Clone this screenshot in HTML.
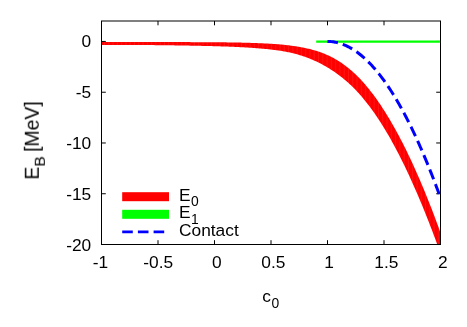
<!DOCTYPE html>
<html><head><meta charset="utf-8"><title>plot</title>
<style>html,body{margin:0;padding:0;background:#fff;}body{width:467px;height:327px;overflow:hidden;font-family:"Liberation Sans",sans-serif;}</style></head>
<body>
<svg width="467" height="327" viewBox="0 0 467 327" style="display:block">
<rect width="467" height="327" fill="#fff"/>
<defs><clipPath id="cp"><rect x="101.5" y="21.15" width="339.0" height="223.35"/></clipPath></defs>
<path d="M101.50,244.5v-4.3M101.50,21.0v4.3M158.00,244.5v-4.3M158.00,21.0v4.3M214.50,244.5v-4.3M214.50,21.0v4.3M271.00,244.5v-4.3M271.00,21.0v4.3M327.50,244.5v-4.3M327.50,21.0v4.3M384.00,244.5v-4.3M384.00,21.0v4.3M440.50,244.5v-4.3M440.50,21.0v4.3M101.5,41.45h4.3M440.5,41.45h-4.3M101.5,92.22h4.3M440.5,92.22h-4.3M101.5,142.98h4.3M440.5,142.98h-4.3M101.5,193.74h4.3M440.5,193.74h-4.3M101.5,244.50h4.3M440.5,244.50h-4.3" stroke="#000" stroke-width="1" fill="none"/>
<g clip-path="url(#cp)"><polygon points="100.0,42.02 101.0,42.02 102.0,42.01 103.0,42.01 104.0,42.01 105.0,42.00 106.0,42.00 107.0,41.99 108.0,41.99 109.0,41.99 110.0,41.98 111.0,41.98 112.0,41.98 113.0,41.97 114.0,41.97 115.0,41.97 116.0,41.97 117.0,41.97 118.0,41.96 119.0,41.96 120.0,41.96 121.0,41.96 122.0,41.96 123.0,41.96 124.0,41.95 125.0,41.95 126.0,41.95 127.0,41.95 128.0,41.95 129.0,41.95 130.0,41.95 131.0,41.95 132.0,41.95 133.0,41.95 134.0,41.95 135.0,41.95 136.0,41.95 137.0,41.95 138.0,41.95 139.0,41.96 140.0,41.96 141.0,41.96 142.0,41.96 143.0,41.96 144.0,41.96 145.0,41.96 146.0,41.97 147.0,41.97 148.0,41.97 149.0,41.97 150.0,41.97 151.0,41.98 152.0,41.98 153.0,41.98 154.0,41.98 155.0,41.99 156.0,41.99 157.0,41.99 158.0,41.99 159.0,42.00 160.0,42.00 161.0,42.00 162.0,42.01 163.0,42.01 164.0,42.01 165.0,42.02 166.0,42.02 167.0,42.02 168.0,42.03 169.0,42.03 170.0,42.04 171.0,42.04 172.0,42.04 173.0,42.05 174.0,42.05 175.0,42.06 176.0,42.06 177.0,42.06 178.0,42.07 179.0,42.07 180.0,42.08 181.0,42.08 182.0,42.09 183.0,42.09 184.0,42.10 185.0,42.10 186.0,42.11 187.0,42.11 188.0,42.12 189.0,42.12 190.0,42.12 191.0,42.13 192.0,42.13 193.0,42.14 194.0,42.14 195.0,42.15 196.0,42.15 197.0,42.16 198.0,42.16 199.0,42.17 200.0,42.17 201.0,42.18 202.0,42.18 203.0,42.19 204.0,42.20 205.0,42.20 206.0,42.21 207.0,42.21 208.0,42.22 209.0,42.22 210.0,42.23 211.0,42.24 212.0,42.24 213.0,42.25 214.0,42.26 215.0,42.26 216.0,42.27 217.0,42.28 218.0,42.29 219.0,42.30 220.0,42.31 221.0,42.32 222.0,42.33 223.0,42.34 224.0,42.35 225.0,42.36 226.0,42.37 227.0,42.38 228.0,42.40 229.0,42.41 230.0,42.42 231.0,42.44 232.0,42.45 233.0,42.47 234.0,42.49 235.0,42.50 236.0,42.52 237.0,42.54 238.0,42.56 239.0,42.58 240.0,42.60 241.0,42.62 242.0,42.65 243.0,42.67 244.0,42.69 245.0,42.72 246.0,42.75 247.0,42.77 248.0,42.80 249.0,42.83 250.0,42.86 251.0,42.89 252.0,42.92 253.0,42.96 254.0,42.99 255.0,43.03 256.0,43.06 257.0,43.10 258.0,43.14 259.0,43.18 260.0,43.22 261.0,43.26 262.0,43.30 263.0,43.35 264.0,43.40 265.0,43.44 266.0,43.49 267.0,43.55 268.0,43.60 269.0,43.66 270.0,43.71 271.0,43.77 272.0,43.84 273.0,43.90 274.0,43.97 275.0,44.04 276.0,44.11 277.0,44.19 278.0,44.27 279.0,44.35 280.0,44.44 281.0,44.53 282.0,44.62 283.0,44.72 284.0,44.82 285.0,44.92 286.0,45.03 287.0,45.14 288.0,45.25 289.0,45.37 290.0,45.50 291.0,45.63 292.0,45.76 293.0,45.90 294.0,46.04 295.0,46.19 296.0,46.34 297.0,46.50 298.0,46.67 299.0,46.84 300.0,47.01 301.0,47.19 302.0,47.38 303.0,47.57 304.0,47.77 305.0,47.97 306.0,48.18 307.0,48.40 308.0,48.63 309.0,48.87 310.0,49.11 311.0,49.37 312.0,49.63 313.0,49.90 314.0,50.18 315.0,50.47 316.0,50.78 317.0,51.09 318.0,51.41 319.0,51.75 320.0,52.09 321.0,52.45 322.0,52.82 323.0,53.21 324.0,53.60 325.0,54.01 326.0,54.44 327.0,54.88 328.0,55.33 329.0,55.79 330.0,56.27 331.0,56.77 332.0,57.28 333.0,57.81 334.0,58.35 335.0,58.91 336.0,59.49 337.0,60.08 338.0,60.69 339.0,61.32 340.0,61.96 341.0,62.62 342.0,63.30 343.0,64.00 344.0,64.71 345.0,65.44 346.0,66.19 347.0,66.97 348.0,67.76 349.0,68.56 350.0,69.39 351.0,70.24 352.0,71.11 353.0,72.00 354.0,72.91 355.0,73.84 356.0,74.79 357.0,75.76 358.0,76.75 359.0,77.77 360.0,78.80 361.0,79.86 362.0,80.94 363.0,82.05 364.0,83.17 365.0,84.32 366.0,85.49 367.0,86.68 368.0,87.89 369.0,89.12 370.0,90.38 371.0,91.65 372.0,92.95 373.0,94.27 374.0,95.62 375.0,96.98 376.0,98.37 377.0,99.77 378.0,101.20 379.0,102.65 380.0,104.12 381.0,105.62 382.0,107.13 383.0,108.67 384.0,110.22 385.0,111.80 386.0,113.40 387.0,115.02 388.0,116.66 389.0,118.32 390.0,120.01 391.0,121.71 392.0,123.44 393.0,125.19 394.0,126.95 395.0,128.74 396.0,130.55 397.0,132.38 398.0,134.23 399.0,136.10 400.0,138.00 401.0,139.91 402.0,141.85 403.0,143.80 404.0,145.78 405.0,147.77 406.0,149.79 407.0,151.83 408.0,153.89 409.0,155.97 410.0,158.08 411.0,160.20 412.0,162.35 413.0,164.51 414.0,166.70 415.0,168.91 416.0,171.14 417.0,173.40 418.0,175.67 419.0,177.97 420.0,180.29 421.0,182.63 422.0,185.00 423.0,187.38 424.0,189.79 425.0,192.22 426.0,194.67 427.0,197.15 428.0,199.64 429.0,202.16 430.0,204.71 431.0,207.27 432.0,209.86 433.0,212.47 434.0,215.11 435.0,217.76 436.0,220.44 437.0,223.14 438.0,225.87 439.0,228.62 440.0,231.39 441.0,234.19 442.0,237.01 443.0,239.85 444.0,242.72 445.0,245.61 446.0,248.52 447.0,251.46 447.0,271.90 446.0,268.99 445.0,266.11 444.0,263.24 443.0,260.39 442.0,257.56 441.0,254.75 440.0,251.96 439.0,249.19 438.0,246.44 437.0,243.71 436.0,241.00 435.0,238.31 434.0,235.64 433.0,232.98 432.0,230.35 431.0,227.74 430.0,225.14 429.0,222.57 428.0,220.02 427.0,217.48 426.0,214.97 425.0,212.48 424.0,210.00 423.0,207.55 422.0,205.12 421.0,202.70 420.0,200.31 419.0,197.94 418.0,195.59 417.0,193.25 416.0,190.94 415.0,188.65 414.0,186.38 413.0,184.13 412.0,181.90 411.0,179.69 410.0,177.50 409.0,175.33 408.0,173.19 407.0,171.06 406.0,168.95 405.0,166.87 404.0,164.80 403.0,162.76 402.0,160.73 401.0,158.73 400.0,156.75 399.0,154.79 398.0,152.85 397.0,150.93 396.0,149.04 395.0,147.16 394.0,145.30 393.0,143.47 392.0,141.66 391.0,139.86 390.0,138.09 389.0,136.34 388.0,134.61 387.0,132.90 386.0,131.22 385.0,129.55 384.0,127.90 383.0,126.28 382.0,124.68 381.0,123.09 380.0,121.53 379.0,119.99 378.0,118.47 377.0,116.97 376.0,115.50 375.0,114.04 374.0,112.61 373.0,111.19 372.0,109.80 371.0,108.43 370.0,107.07 369.0,105.74 368.0,104.44 367.0,103.15 366.0,101.88 365.0,100.64 364.0,99.41 363.0,98.21 362.0,97.02 361.0,95.86 360.0,94.72 359.0,93.60 358.0,92.51 357.0,91.43 356.0,90.37 355.0,89.33 354.0,88.31 353.0,87.31 352.0,86.33 351.0,85.37 350.0,84.43 349.0,83.51 348.0,82.60 347.0,81.71 346.0,80.84 345.0,79.98 344.0,79.15 343.0,78.32 342.0,77.52 341.0,76.73 340.0,75.95 339.0,75.19 338.0,74.45 337.0,73.72 336.0,73.00 335.0,72.30 334.0,71.62 333.0,70.94 332.0,70.28 331.0,69.63 330.0,69.00 329.0,68.37 328.0,67.76 327.0,67.16 326.0,66.58 325.0,66.00 324.0,65.44 323.0,64.88 322.0,64.34 321.0,63.82 320.0,63.30 319.0,62.79 318.0,62.30 317.0,61.81 316.0,61.34 315.0,60.88 314.0,60.43 313.0,59.99 312.0,59.56 311.0,59.14 310.0,58.73 309.0,58.33 308.0,57.94 307.0,57.57 306.0,57.20 305.0,56.84 304.0,56.49 303.0,56.15 302.0,55.82 301.0,55.50 300.0,55.20 299.0,54.89 298.0,54.60 297.0,54.32 296.0,54.05 295.0,53.78 294.0,53.53 293.0,53.28 292.0,53.04 291.0,52.81 290.0,52.58 289.0,52.36 288.0,52.15 287.0,51.95 286.0,51.76 285.0,51.57 284.0,51.38 283.0,51.21 282.0,51.04 281.0,50.87 280.0,50.72 279.0,50.56 278.0,50.42 277.0,50.27 276.0,50.14 275.0,50.00 274.0,49.88 273.0,49.75 272.0,49.63 271.0,49.52 270.0,49.41 269.0,49.30 268.0,49.20 267.0,49.10 266.0,49.00 265.0,48.90 264.0,48.81 263.0,48.72 262.0,48.63 261.0,48.55 260.0,48.47 259.0,48.39 258.0,48.31 257.0,48.23 256.0,48.15 255.0,48.08 254.0,48.01 253.0,47.94 252.0,47.87 251.0,47.80 250.0,47.73 249.0,47.67 248.0,47.61 247.0,47.54 246.0,47.48 245.0,47.43 244.0,47.37 243.0,47.31 242.0,47.26 241.0,47.20 240.0,47.15 239.0,47.10 238.0,47.05 237.0,47.00 236.0,46.96 235.0,46.91 234.0,46.87 233.0,46.82 232.0,46.78 231.0,46.74 230.0,46.70 229.0,46.66 228.0,46.62 227.0,46.58 226.0,46.55 225.0,46.51 224.0,46.48 223.0,46.44 222.0,46.41 221.0,46.38 220.0,46.34 219.0,46.31 218.0,46.28 217.0,46.25 216.0,46.23 215.0,46.20 214.0,46.17 213.0,46.14 212.0,46.12 211.0,46.09 210.0,46.07 209.0,46.04 208.0,46.02 207.0,45.99 206.0,45.97 205.0,45.95 204.0,45.92 203.0,45.90 202.0,45.88 201.0,45.86 200.0,45.84 199.0,45.82 198.0,45.79 197.0,45.77 196.0,45.75 195.0,45.73 194.0,45.71 193.0,45.69 192.0,45.67 191.0,45.65 190.0,45.64 189.0,45.62 188.0,45.60 187.0,45.58 186.0,45.56 185.0,45.54 184.0,45.53 183.0,45.51 182.0,45.49 181.0,45.48 180.0,45.46 179.0,45.44 178.0,45.43 177.0,45.41 176.0,45.39 175.0,45.38 174.0,45.36 173.0,45.35 172.0,45.33 171.0,45.32 170.0,45.31 169.0,45.29 168.0,45.28 167.0,45.27 166.0,45.25 165.0,45.24 164.0,45.23 163.0,45.22 162.0,45.20 161.0,45.19 160.0,45.18 159.0,45.17 158.0,45.16 157.0,45.15 156.0,45.14 155.0,45.13 154.0,45.12 153.0,45.11 152.0,45.10 151.0,45.09 150.0,45.08 149.0,45.07 148.0,45.06 147.0,45.06 146.0,45.05 145.0,45.04 144.0,45.03 143.0,45.03 142.0,45.02 141.0,45.01 140.0,45.01 139.0,45.00 138.0,45.00 137.0,44.99 136.0,44.99 135.0,44.98 134.0,44.98 133.0,44.98 132.0,44.97 131.0,44.97 130.0,44.97 129.0,44.96 128.0,44.96 127.0,44.96 126.0,44.96 125.0,44.96 124.0,44.95 123.0,44.95 122.0,44.95 121.0,44.95 120.0,44.95 119.0,44.95 118.0,44.95 117.0,44.95 116.0,44.96 115.0,44.96 114.0,44.96 113.0,44.96 112.0,44.96 111.0,44.97 110.0,44.97 109.0,44.97 108.0,44.98 107.0,44.98 106.0,44.98 105.0,44.99 104.0,44.99 103.0,45.00 102.0,45.00 101.0,45.01 100.0,45.02" fill="#ff0000"/><clipPath id="bp"><polygon points="100.0,42.02 101.0,42.02 102.0,42.01 103.0,42.01 104.0,42.01 105.0,42.00 106.0,42.00 107.0,41.99 108.0,41.99 109.0,41.99 110.0,41.98 111.0,41.98 112.0,41.98 113.0,41.97 114.0,41.97 115.0,41.97 116.0,41.97 117.0,41.97 118.0,41.96 119.0,41.96 120.0,41.96 121.0,41.96 122.0,41.96 123.0,41.96 124.0,41.95 125.0,41.95 126.0,41.95 127.0,41.95 128.0,41.95 129.0,41.95 130.0,41.95 131.0,41.95 132.0,41.95 133.0,41.95 134.0,41.95 135.0,41.95 136.0,41.95 137.0,41.95 138.0,41.95 139.0,41.96 140.0,41.96 141.0,41.96 142.0,41.96 143.0,41.96 144.0,41.96 145.0,41.96 146.0,41.97 147.0,41.97 148.0,41.97 149.0,41.97 150.0,41.97 151.0,41.98 152.0,41.98 153.0,41.98 154.0,41.98 155.0,41.99 156.0,41.99 157.0,41.99 158.0,41.99 159.0,42.00 160.0,42.00 161.0,42.00 162.0,42.01 163.0,42.01 164.0,42.01 165.0,42.02 166.0,42.02 167.0,42.02 168.0,42.03 169.0,42.03 170.0,42.04 171.0,42.04 172.0,42.04 173.0,42.05 174.0,42.05 175.0,42.06 176.0,42.06 177.0,42.06 178.0,42.07 179.0,42.07 180.0,42.08 181.0,42.08 182.0,42.09 183.0,42.09 184.0,42.10 185.0,42.10 186.0,42.11 187.0,42.11 188.0,42.12 189.0,42.12 190.0,42.12 191.0,42.13 192.0,42.13 193.0,42.14 194.0,42.14 195.0,42.15 196.0,42.15 197.0,42.16 198.0,42.16 199.0,42.17 200.0,42.17 201.0,42.18 202.0,42.18 203.0,42.19 204.0,42.20 205.0,42.20 206.0,42.21 207.0,42.21 208.0,42.22 209.0,42.22 210.0,42.23 211.0,42.24 212.0,42.24 213.0,42.25 214.0,42.26 215.0,42.26 216.0,42.27 217.0,42.28 218.0,42.29 219.0,42.30 220.0,42.31 221.0,42.32 222.0,42.33 223.0,42.34 224.0,42.35 225.0,42.36 226.0,42.37 227.0,42.38 228.0,42.40 229.0,42.41 230.0,42.42 231.0,42.44 232.0,42.45 233.0,42.47 234.0,42.49 235.0,42.50 236.0,42.52 237.0,42.54 238.0,42.56 239.0,42.58 240.0,42.60 241.0,42.62 242.0,42.65 243.0,42.67 244.0,42.69 245.0,42.72 246.0,42.75 247.0,42.77 248.0,42.80 249.0,42.83 250.0,42.86 251.0,42.89 252.0,42.92 253.0,42.96 254.0,42.99 255.0,43.03 256.0,43.06 257.0,43.10 258.0,43.14 259.0,43.18 260.0,43.22 261.0,43.26 262.0,43.30 263.0,43.35 264.0,43.40 265.0,43.44 266.0,43.49 267.0,43.55 268.0,43.60 269.0,43.66 270.0,43.71 271.0,43.77 272.0,43.84 273.0,43.90 274.0,43.97 275.0,44.04 276.0,44.11 277.0,44.19 278.0,44.27 279.0,44.35 280.0,44.44 281.0,44.53 282.0,44.62 283.0,44.72 284.0,44.82 285.0,44.92 286.0,45.03 287.0,45.14 288.0,45.25 289.0,45.37 290.0,45.50 291.0,45.63 292.0,45.76 293.0,45.90 294.0,46.04 295.0,46.19 296.0,46.34 297.0,46.50 298.0,46.67 299.0,46.84 300.0,47.01 301.0,47.19 302.0,47.38 303.0,47.57 304.0,47.77 305.0,47.97 306.0,48.18 307.0,48.40 308.0,48.63 309.0,48.87 310.0,49.11 311.0,49.37 312.0,49.63 313.0,49.90 314.0,50.18 315.0,50.47 316.0,50.78 317.0,51.09 318.0,51.41 319.0,51.75 320.0,52.09 321.0,52.45 322.0,52.82 323.0,53.21 324.0,53.60 325.0,54.01 326.0,54.44 327.0,54.88 328.0,55.33 329.0,55.79 330.0,56.27 331.0,56.77 332.0,57.28 333.0,57.81 334.0,58.35 335.0,58.91 336.0,59.49 337.0,60.08 338.0,60.69 339.0,61.32 340.0,61.96 341.0,62.62 342.0,63.30 343.0,64.00 344.0,64.71 345.0,65.44 346.0,66.19 347.0,66.97 348.0,67.76 349.0,68.56 350.0,69.39 351.0,70.24 352.0,71.11 353.0,72.00 354.0,72.91 355.0,73.84 356.0,74.79 357.0,75.76 358.0,76.75 359.0,77.77 360.0,78.80 361.0,79.86 362.0,80.94 363.0,82.05 364.0,83.17 365.0,84.32 366.0,85.49 367.0,86.68 368.0,87.89 369.0,89.12 370.0,90.38 371.0,91.65 372.0,92.95 373.0,94.27 374.0,95.62 375.0,96.98 376.0,98.37 377.0,99.77 378.0,101.20 379.0,102.65 380.0,104.12 381.0,105.62 382.0,107.13 383.0,108.67 384.0,110.22 385.0,111.80 386.0,113.40 387.0,115.02 388.0,116.66 389.0,118.32 390.0,120.01 391.0,121.71 392.0,123.44 393.0,125.19 394.0,126.95 395.0,128.74 396.0,130.55 397.0,132.38 398.0,134.23 399.0,136.10 400.0,138.00 401.0,139.91 402.0,141.85 403.0,143.80 404.0,145.78 405.0,147.77 406.0,149.79 407.0,151.83 408.0,153.89 409.0,155.97 410.0,158.08 411.0,160.20 412.0,162.35 413.0,164.51 414.0,166.70 415.0,168.91 416.0,171.14 417.0,173.40 418.0,175.67 419.0,177.97 420.0,180.29 421.0,182.63 422.0,185.00 423.0,187.38 424.0,189.79 425.0,192.22 426.0,194.67 427.0,197.15 428.0,199.64 429.0,202.16 430.0,204.71 431.0,207.27 432.0,209.86 433.0,212.47 434.0,215.11 435.0,217.76 436.0,220.44 437.0,223.14 438.0,225.87 439.0,228.62 440.0,231.39 441.0,234.19 442.0,237.01 443.0,239.85 444.0,242.72 445.0,245.61 446.0,248.52 447.0,251.46 447.0,271.90 446.0,268.99 445.0,266.11 444.0,263.24 443.0,260.39 442.0,257.56 441.0,254.75 440.0,251.96 439.0,249.19 438.0,246.44 437.0,243.71 436.0,241.00 435.0,238.31 434.0,235.64 433.0,232.98 432.0,230.35 431.0,227.74 430.0,225.14 429.0,222.57 428.0,220.02 427.0,217.48 426.0,214.97 425.0,212.48 424.0,210.00 423.0,207.55 422.0,205.12 421.0,202.70 420.0,200.31 419.0,197.94 418.0,195.59 417.0,193.25 416.0,190.94 415.0,188.65 414.0,186.38 413.0,184.13 412.0,181.90 411.0,179.69 410.0,177.50 409.0,175.33 408.0,173.19 407.0,171.06 406.0,168.95 405.0,166.87 404.0,164.80 403.0,162.76 402.0,160.73 401.0,158.73 400.0,156.75 399.0,154.79 398.0,152.85 397.0,150.93 396.0,149.04 395.0,147.16 394.0,145.30 393.0,143.47 392.0,141.66 391.0,139.86 390.0,138.09 389.0,136.34 388.0,134.61 387.0,132.90 386.0,131.22 385.0,129.55 384.0,127.90 383.0,126.28 382.0,124.68 381.0,123.09 380.0,121.53 379.0,119.99 378.0,118.47 377.0,116.97 376.0,115.50 375.0,114.04 374.0,112.61 373.0,111.19 372.0,109.80 371.0,108.43 370.0,107.07 369.0,105.74 368.0,104.44 367.0,103.15 366.0,101.88 365.0,100.64 364.0,99.41 363.0,98.21 362.0,97.02 361.0,95.86 360.0,94.72 359.0,93.60 358.0,92.51 357.0,91.43 356.0,90.37 355.0,89.33 354.0,88.31 353.0,87.31 352.0,86.33 351.0,85.37 350.0,84.43 349.0,83.51 348.0,82.60 347.0,81.71 346.0,80.84 345.0,79.98 344.0,79.15 343.0,78.32 342.0,77.52 341.0,76.73 340.0,75.95 339.0,75.19 338.0,74.45 337.0,73.72 336.0,73.00 335.0,72.30 334.0,71.62 333.0,70.94 332.0,70.28 331.0,69.63 330.0,69.00 329.0,68.37 328.0,67.76 327.0,67.16 326.0,66.58 325.0,66.00 324.0,65.44 323.0,64.88 322.0,64.34 321.0,63.82 320.0,63.30 319.0,62.79 318.0,62.30 317.0,61.81 316.0,61.34 315.0,60.88 314.0,60.43 313.0,59.99 312.0,59.56 311.0,59.14 310.0,58.73 309.0,58.33 308.0,57.94 307.0,57.57 306.0,57.20 305.0,56.84 304.0,56.49 303.0,56.15 302.0,55.82 301.0,55.50 300.0,55.20 299.0,54.89 298.0,54.60 297.0,54.32 296.0,54.05 295.0,53.78 294.0,53.53 293.0,53.28 292.0,53.04 291.0,52.81 290.0,52.58 289.0,52.36 288.0,52.15 287.0,51.95 286.0,51.76 285.0,51.57 284.0,51.38 283.0,51.21 282.0,51.04 281.0,50.87 280.0,50.72 279.0,50.56 278.0,50.42 277.0,50.27 276.0,50.14 275.0,50.00 274.0,49.88 273.0,49.75 272.0,49.63 271.0,49.52 270.0,49.41 269.0,49.30 268.0,49.20 267.0,49.10 266.0,49.00 265.0,48.90 264.0,48.81 263.0,48.72 262.0,48.63 261.0,48.55 260.0,48.47 259.0,48.39 258.0,48.31 257.0,48.23 256.0,48.15 255.0,48.08 254.0,48.01 253.0,47.94 252.0,47.87 251.0,47.80 250.0,47.73 249.0,47.67 248.0,47.61 247.0,47.54 246.0,47.48 245.0,47.43 244.0,47.37 243.0,47.31 242.0,47.26 241.0,47.20 240.0,47.15 239.0,47.10 238.0,47.05 237.0,47.00 236.0,46.96 235.0,46.91 234.0,46.87 233.0,46.82 232.0,46.78 231.0,46.74 230.0,46.70 229.0,46.66 228.0,46.62 227.0,46.58 226.0,46.55 225.0,46.51 224.0,46.48 223.0,46.44 222.0,46.41 221.0,46.38 220.0,46.34 219.0,46.31 218.0,46.28 217.0,46.25 216.0,46.23 215.0,46.20 214.0,46.17 213.0,46.14 212.0,46.12 211.0,46.09 210.0,46.07 209.0,46.04 208.0,46.02 207.0,45.99 206.0,45.97 205.0,45.95 204.0,45.92 203.0,45.90 202.0,45.88 201.0,45.86 200.0,45.84 199.0,45.82 198.0,45.79 197.0,45.77 196.0,45.75 195.0,45.73 194.0,45.71 193.0,45.69 192.0,45.67 191.0,45.65 190.0,45.64 189.0,45.62 188.0,45.60 187.0,45.58 186.0,45.56 185.0,45.54 184.0,45.53 183.0,45.51 182.0,45.49 181.0,45.48 180.0,45.46 179.0,45.44 178.0,45.43 177.0,45.41 176.0,45.39 175.0,45.38 174.0,45.36 173.0,45.35 172.0,45.33 171.0,45.32 170.0,45.31 169.0,45.29 168.0,45.28 167.0,45.27 166.0,45.25 165.0,45.24 164.0,45.23 163.0,45.22 162.0,45.20 161.0,45.19 160.0,45.18 159.0,45.17 158.0,45.16 157.0,45.15 156.0,45.14 155.0,45.13 154.0,45.12 153.0,45.11 152.0,45.10 151.0,45.09 150.0,45.08 149.0,45.07 148.0,45.06 147.0,45.06 146.0,45.05 145.0,45.04 144.0,45.03 143.0,45.03 142.0,45.02 141.0,45.01 140.0,45.01 139.0,45.00 138.0,45.00 137.0,44.99 136.0,44.99 135.0,44.98 134.0,44.98 133.0,44.98 132.0,44.97 131.0,44.97 130.0,44.97 129.0,44.96 128.0,44.96 127.0,44.96 126.0,44.96 125.0,44.96 124.0,44.95 123.0,44.95 122.0,44.95 121.0,44.95 120.0,44.95 119.0,44.95 118.0,44.95 117.0,44.95 116.0,44.96 115.0,44.96 114.0,44.96 113.0,44.96 112.0,44.96 111.0,44.97 110.0,44.97 109.0,44.97 108.0,44.98 107.0,44.98 106.0,44.98 105.0,44.99 104.0,44.99 103.0,45.00 102.0,45.00 101.0,45.01 100.0,45.02"/></clipPath><path d="M100.26,30V260M104.54,30V260M108.82,30V260M113.10,30V260M117.38,30V260M121.66,30V260M125.94,30V260M130.22,30V260M134.50,30V260M138.78,30V260M143.06,30V260M147.34,30V260M151.62,30V260M155.90,30V260M160.18,30V260M164.46,30V260M168.74,30V260M173.02,30V260M177.30,30V260M181.58,30V260M185.86,30V260M190.14,30V260M194.42,30V260M198.70,30V260M202.98,30V260M207.26,30V260M211.54,30V260M215.82,30V260M220.10,30V260M224.38,30V260M228.66,30V260M232.94,30V260M237.22,30V260M241.50,30V260M245.78,30V260M250.06,30V260M254.34,30V260M258.62,30V260M262.90,30V260M267.18,30V260M271.46,30V260M275.74,30V260M280.02,30V260M284.30,30V260M288.58,30V260M292.86,30V260M297.14,30V260M301.42,30V260M305.70,30V260M309.98,30V260M314.26,30V260M318.54,30V260M322.82,30V260M327.10,30V260M331.38,30V260M335.66,30V260M339.94,30V260M344.22,30V260M348.50,30V260M352.78,30V260M357.06,30V260M361.34,30V260M365.62,30V260M369.90,30V260M374.18,30V260M378.46,30V260M382.74,30V260M387.02,30V260M391.30,30V260M395.58,30V260M399.86,30V260M404.14,30V260M408.42,30V260M412.70,30V260M416.98,30V260M421.26,30V260M425.54,30V260M429.82,30V260M434.10,30V260M438.38,30V260M442.66,30V260" stroke="#fff" stroke-width="0.8" opacity="0.1" clip-path="url(#bp)" fill="none"/></g>
<path d="M316.20,41.65H440.5" stroke="#00ff00" stroke-width="2.3" fill="none"/>
<g clip-path="url(#cp)"><polyline points="327.50,41.45 328.45,41.47 329.40,41.50 330.35,41.55 331.30,41.63 332.25,41.73 333.20,41.85 334.15,42.00 335.10,42.16 336.05,42.35 337.00,42.56 337.95,42.79 338.89,43.04 339.84,43.32 340.79,43.62 341.74,43.94 342.69,44.28 343.64,44.65 344.59,45.03 345.54,45.44 346.49,45.87 347.44,46.32 348.39,46.80 349.34,47.29 350.29,47.81 351.24,48.35 352.19,48.92 353.14,49.50 354.09,50.11 355.04,50.74 355.99,51.39 356.94,52.06 357.89,52.76 358.84,53.48 359.79,54.22 360.74,54.98 361.68,55.76 362.63,56.57 363.58,57.40 364.53,58.25 365.48,59.12 366.43,60.01 367.38,60.93 368.33,61.87 369.28,62.83 370.23,63.81 371.18,64.82 372.13,65.84 373.08,66.89 374.03,67.96 374.98,69.06 375.93,70.17 376.88,71.31 377.83,72.47 378.78,73.65 379.73,74.85 380.68,76.08 381.63,77.33 382.58,78.59 383.53,79.89 384.47,81.20 385.42,82.54 386.37,83.89 387.32,85.27 388.27,86.68 389.22,88.10 390.17,89.55 391.12,91.02 392.07,92.51 393.02,94.02 393.97,95.55 394.92,97.11 395.87,98.69 396.82,100.29 397.77,101.91 398.72,103.56 399.67,105.22 400.62,106.91 401.57,108.63 402.52,110.36 403.47,112.11 404.42,113.89 405.37,115.69 406.32,117.51 407.26,119.36 408.21,121.22 409.16,123.11 410.11,125.02 411.06,126.95 412.01,128.91 412.96,130.88 413.91,132.88 414.86,134.90 415.81,136.94 416.76,139.01 417.71,141.10 418.66,143.20 419.61,145.33 420.56,147.49 421.51,149.66 422.46,151.86 423.41,154.08 424.36,156.32 425.31,158.58 426.26,160.87 427.21,163.18 428.16,165.51 429.11,167.86 430.05,170.23 431.00,172.63 431.95,175.05 432.90,177.48 433.85,179.95 434.80,182.43 435.75,184.94 436.70,187.47 437.65,190.02 438.60,192.59 439.55,195.18 440.50,197.80" stroke="#0000ff" stroke-width="3.0" stroke-dasharray="10.5 5.1" fill="none"/></g>
<rect x="101.5" y="21.0" width="339.0" height="223.5" fill="none" stroke="#000" stroke-width="1"/>
<rect x="122.2" y="192.2" width="46.8" height="9" fill="#ff0000"/>
<rect x="122.2" y="209.8" width="46.8" height="9" fill="#00ff00"/>
<path d="M122.2,231.8H169" stroke="#0000ff" stroke-width="2.8" stroke-dasharray="10.6 5.1" fill="none"/>
<g style="filter:grayscale(1)">
<text x="179" y="200.5" font-family="Liberation Sans, sans-serif" font-size="17.33" fill="#000">E<tspan font-size="13.86" dy="5.8" dx="0.5">0</tspan></text>
<text x="179" y="218.1" font-family="Liberation Sans, sans-serif" font-size="17.33" fill="#000">E<tspan font-size="13.86" dy="5.8" dx="0.5">1</tspan></text>
<text x="179" y="236.2" font-family="Liberation Sans, sans-serif" font-size="17.33" fill="#000">Contact</text>
<text x="100.40" y="267.6" text-anchor="middle" font-family="Liberation Sans, sans-serif" font-size="17.33" fill="#000">-1</text>
<text x="158.20" y="267.6" text-anchor="middle" font-family="Liberation Sans, sans-serif" font-size="17.33" fill="#000">-0.5</text>
<text x="216.80" y="267.6" text-anchor="middle" font-family="Liberation Sans, sans-serif" font-size="17.33" fill="#000">0</text>
<text x="273.30" y="267.6" text-anchor="middle" font-family="Liberation Sans, sans-serif" font-size="17.33" fill="#000">0.5</text>
<text x="329.10" y="267.6" text-anchor="middle" font-family="Liberation Sans, sans-serif" font-size="17.33" fill="#000">1</text>
<text x="386.40" y="267.6" text-anchor="middle" font-family="Liberation Sans, sans-serif" font-size="17.33" fill="#000">1.5</text>
<text x="442.80" y="267.6" text-anchor="middle" font-family="Liberation Sans, sans-serif" font-size="17.33" fill="#000">2</text>
<text x="91.2" y="47.25" text-anchor="end" font-family="Liberation Sans, sans-serif" font-size="17.33" fill="#000">0</text>
<text x="91.2" y="98.42" text-anchor="end" font-family="Liberation Sans, sans-serif" font-size="17.33" fill="#000">-5</text>
<text x="91.2" y="149.18" text-anchor="end" font-family="Liberation Sans, sans-serif" font-size="17.33" fill="#000">-10</text>
<text x="91.2" y="199.94" text-anchor="end" font-family="Liberation Sans, sans-serif" font-size="17.33" fill="#000">-15</text>
<text x="91.2" y="250.70" text-anchor="end" font-family="Liberation Sans, sans-serif" font-size="17.33" fill="#000">-20</text>
<text x="262.2" y="301.8" font-family="Liberation Sans, sans-serif" font-size="17.33" fill="#000">c<tspan font-size="13.86" dy="6.0" dx="0.6">0</tspan></text>
<text transform="translate(38.8,179.6) rotate(-90)" font-family="Liberation Sans, sans-serif" font-size="19.4" fill="#000">E<tspan font-size="15.52" dy="6.2">B</tspan><tspan dy="-6.2" dx="-1"> [MeV]</tspan></text>
</g>
</svg>
</body></html>
